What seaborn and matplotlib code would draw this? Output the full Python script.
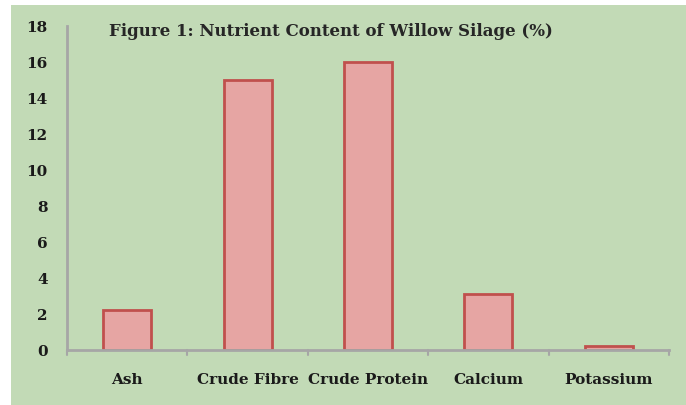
import matplotlib
matplotlib.use("Agg")
import matplotlib.pyplot as plt
from matplotlib.patches import Rectangle
import seaborn as sns
import pandas as pd

# data
nutrients = ["Ash", "Crude Fibre", "Crude Protein", "Calcium", "Potassium"]
percent = [2.2, 15, 16, 3.1, 0.25]
y_ticks = [0, 2, 4, 6, 8, 10, 12, 14, 16, 18]

df = pd.DataFrame({"nutrient": nutrients, "percent": percent})

bg = "#c2dab6"
fill = "#e6a5a3"
edge = "#c0504d"
axis_grey = "#a6a6a6"

sns.set_style("white")
plt.rcParams["font.family"] = ["DejaVu Serif"]

fig = plt.figure(figsize=(6.86, 4.06), dpi=100)
fig.patch.set_facecolor("white")
# green panel with a thin white margin on top and left
fig.patches.append(Rectangle((11 / 686, 0), 1, 400 / 406, transform=fig.transFigure,
                             facecolor=bg, edgecolor="none", zorder=-10))

ax = fig.add_axes([67 / 686, (406 - 351) / 406, (669 - 67) / 686, (351 - 27) / 406])
ax.set_facecolor("none")

sns.barplot(data=df, x="nutrient", y="percent", ax=ax, color=fill, saturation=1,
            width=0.4, edgecolor=edge, linewidth=2)

ax.set_ylim(0, 18)
ax.set_xlim(-0.5, 4.5)
ax.set_yticks(y_ticks)
ax.set_yticklabels([str(t) for t in y_ticks], fontsize=11, fontweight="bold", color="#1a1a1a")
ax.set_xticks(range(len(nutrients)))
ax.set_xticklabels(nutrients, fontsize=11, fontweight="bold", color="#1a1a1a")
ax.tick_params(axis="x", length=0, pad=16)
ax.tick_params(axis="y", length=5, width=1.5, color=axis_grey, pad=9)
ax.set_xlabel("")
ax.set_ylabel("")

for s in ["top", "right"]:
    ax.spines[s].set_visible(False)
for s in ["left", "bottom"]:
    ax.spines[s].set_color(axis_grey)
    ax.spines[s].set_linewidth(2)

# tick marks between categories on the x axis
for b in [-0.5, 0.5, 1.5, 2.5, 3.5, 4.5]:
    ax.plot([b, b], [0, -0.3], color=axis_grey, lw=1.5, clip_on=False)

ax.text(0.07, 0.985, "Figure 1: Nutrient Content of Willow Silage (%)", transform=ax.transAxes,
        fontsize=12, fontweight="bold", color="#262626", va="center", ha="left")

fig.savefig("out.png", dpi=100)
